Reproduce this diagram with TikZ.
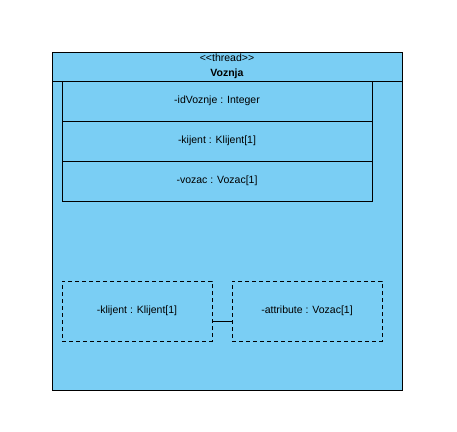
\documentclass[tikz,border=0pt]{standalone}
\usepackage{fontspec}
\setmainfont{Liberation Sans}
\usepackage{xcolor}
\usetikzlibrary{positioning,calc}
\definecolor{threadblue}{HTML}{7ACEF4}
\tikzset{
  attrbox/.style={draw, minimum width=310pt, minimum height=40pt, inner sep=0pt},
  partbox/.style={draw, dashed, dash pattern=on 4pt off 3pt, minimum width=150pt, minimum height=60pt, inner sep=0pt}
}

\begin{document}
\begin{tikzpicture}[x=1pt, y=-1pt, font=\fontsize{10.5}{15}\selectfont]
\useasboundingbox (0,0) rectangle (457,431);
% Thread class
\node[draw, fill=threadblue, minimum width=350pt, minimum height=338pt, inner sep=0pt] (Voznja) at (227,221) {};
\node[draw, minimum width=350pt, minimum height=29pt, inner sep=0pt, align=center] (Head) at (227,66.5) {{<}{<}thread{>}{>}\\\textbf{Voznja}};

% Attributes
\node[attrbox] (Id) at (217,101) {-idVoznje : Integer};
\node[attrbox] (Kijent) at (217,141) {-kijent : Klijent[1]};
\node[attrbox] (Vozac) at (217,181) {-vozac : Vozac[1]};

% Parts
\node[partbox] (Klijent) at (137,311) {-klijent : Klijent[1]};
\node[partbox] (Attr) at (307,311) {-attribute : Vozac[1]};
\draw ($(Klijent.east)+(0,10)$) -- ($(Attr.west)+(0,10)$);
\end{tikzpicture}
\end{document}
